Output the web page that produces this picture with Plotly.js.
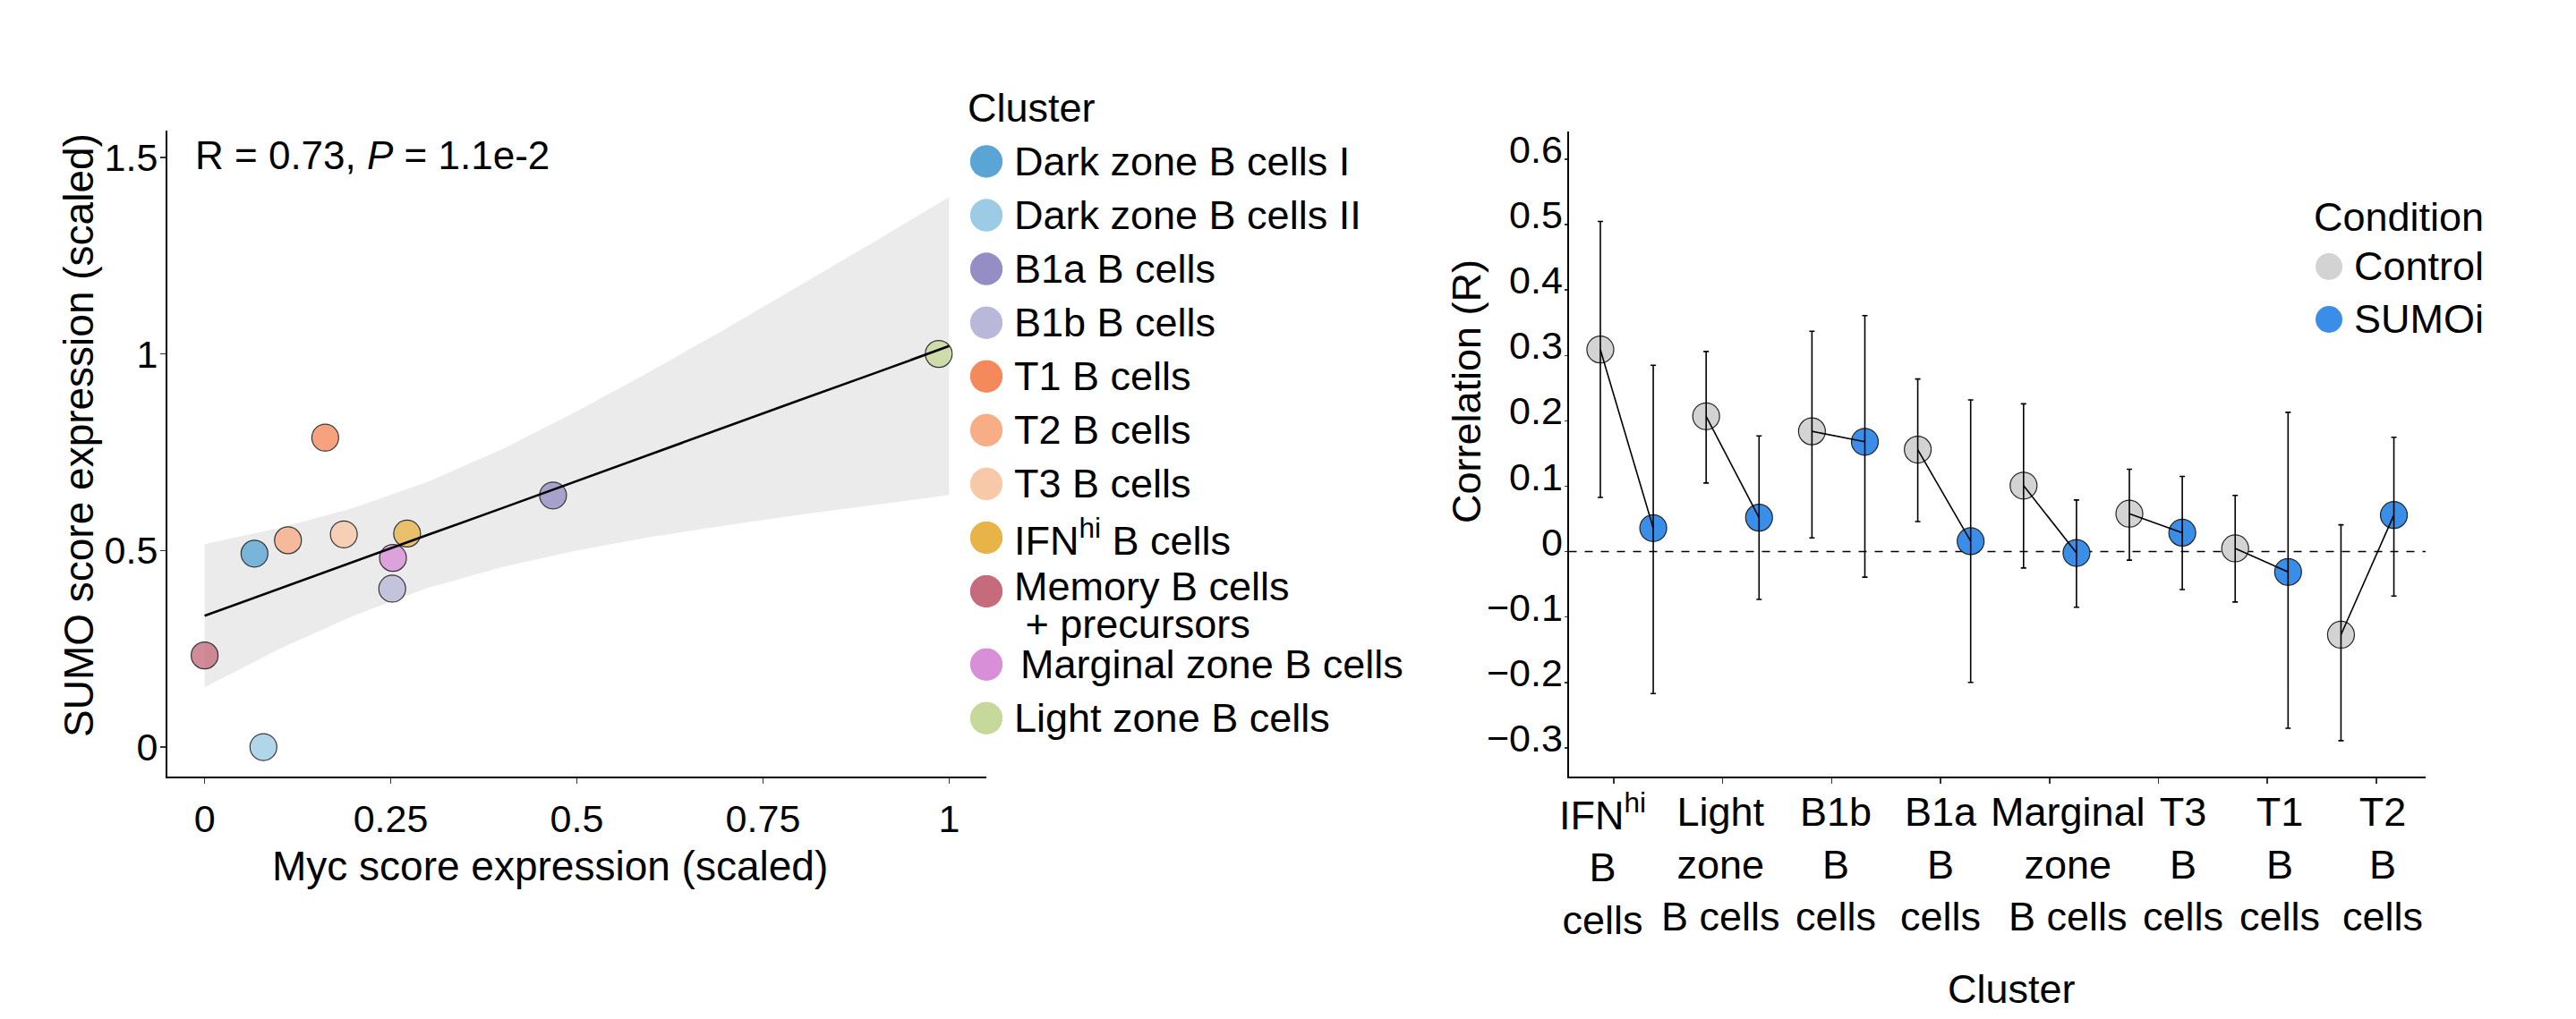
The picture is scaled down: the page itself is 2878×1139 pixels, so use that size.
<!DOCTYPE html>
<html>
<head>
<meta charset="utf-8">
<script src="https://cdn.plot.ly/plotly-3.0.1.min.js"></script>
<style>html,body{margin:0;padding:0;background:#fff;}#chart{width:2878px;height:1139px;}</style>
</head>
<body>
<div id="chart"></div>
<script>
// ---------- Left panel: Myc vs SUMO score per cluster ----------
const clusterNames = ['Dark zone B cells I', 'Dark zone B cells II', 'B1a B cells', 'B1b B cells',
  'T1 B cells', 'T2 B cells', 'T3 B cells', 'IFN<sup>hi</sup> B cells',
  'Memory B cells', 'Marginal zone B cells', 'Light zone B cells'];
const clusterNameSecondLine = ['', '', '', '', '', '', '', '', ' + precursors', '', ''];
const clusterColors = ['#5aa5d5', '#9ccbe5', '#948ec4', '#b9b8da', '#f4895c', '#f7ad85',
  '#f8c9a8', '#e8b347', '#c66b7c', '#d98ed8', '#c7d99a'];
const mycScore  = [0.067, 0.079, 0.468, 0.252, 0.162, 0.112, 0.187, 0.272, 0.000, 0.253, 0.986];
const sumoScore = [0.492, 0.000, 0.640, 0.403, 0.787, 0.526, 0.541, 0.543, 0.233, 0.481, 1.000];

// regression fit and its confidence band
const fitX     = [0, 0.1, 0.2, 0.3, 0.4, 0.5, 0.6, 0.7, 0.8, 0.9, 1.0];
const fitY     = [0.334, 0.403, 0.471, 0.540, 0.608, 0.677, 0.746, 0.814, 0.883, 0.951, 1.020];
const fitUpper = [0.516, 0.557, 0.608, 0.675, 0.758, 0.854, 0.957, 1.064, 1.175, 1.286, 1.399];
const fitLower = [0.152, 0.249, 0.334, 0.405, 0.458, 0.500, 0.535, 0.564, 0.591, 0.616, 0.641];
const statText = 'R = 0.73, <i>P</i> = 1.1e-2';

// ---------- Right panel: correlation per cluster and condition ----------
const corrClusters = ['IFN<sup>hi</sup><br>B<br>cells', 'Light<br>zone<br>B cells', 'B1b<br>B<br>cells',
  'B1a<br>B<br>cells', 'Marginal<br>zone<br>B cells', 'T3<br>B<br>cells', 'T1<br>B<br>cells', 'T2<br>B<br>cells'];
const conditions = ['Control', 'SUMOi'];
const conditionColors = ['#d3d3d3', '#3a8ee8'];
const controlR    = [0.309, 0.207, 0.184, 0.156, 0.101, 0.058, 0.005, -0.127];
const controlLow  = [0.083, 0.105, 0.021, 0.046, -0.025, -0.013, -0.077, -0.289];
const controlHigh = [0.505, 0.306, 0.337, 0.264, 0.226, 0.126, 0.086, 0.041];
const sumoiR      = [0.036, 0.052, 0.168, 0.016, -0.002, 0.029, -0.031, 0.056];
const sumoiLow    = [-0.217, -0.073, -0.039, -0.200, -0.085, -0.058, -0.270, -0.068];
const sumoiHigh   = [0.285, 0.177, 0.361, 0.232, 0.079, 0.115, 0.213, 0.175];

// ---------- build ----------
const W = 2878, H = 1139;
const FONT = 'Liberation Sans, Arial, Helvetica, sans-serif';
const px = v => v / W;
const py = v => 1 - v / H;

const ctrlX = controlR.map((_, i) => 2 * i + 1);
const sumoX = sumoiR.map((_, i) => 2 * i + 2);
const clusterTicks = corrClusters.map((_, k) => 1.254 + 2.059 * k);
const tickLabelNudge = [-12, -2, 5, 0, 21, 28, 14, 7];   // px offsets of the labels as typeset in the figure

const allX = [], allY = [], errUp = [], errDn = [], pairX = [], pairY = [];
controlR.forEach((c, i) => {
  allX.push(ctrlX[i], sumoX[i]);
  allY.push(c, sumoiR[i]);
  errUp.push(controlHigh[i] - c, sumoiHigh[i] - sumoiR[i]);
  errDn.push(c - controlLow[i], sumoiR[i] - sumoiLow[i]);
  pairX.push(ctrlX[i], sumoX[i], null);
  pairY.push(c, sumoiR[i], null);
});

const legendRows = clusterNames.map((_, i) => i + (i > 8 ? 0.36 : 0));

const traces = [
  // band
  {x: fitX, y: fitLower, xaxis: 'x', yaxis: 'y', mode: 'lines', line: {width: 0, color: 'rgba(0,0,0,0)'},
   hoverinfo: 'skip', showlegend: false},
  {x: fitX, y: fitUpper, xaxis: 'x', yaxis: 'y', mode: 'lines', fill: 'tonexty', fillcolor: '#ebebeb',
   line: {width: 0, color: 'rgba(0,0,0,0)'}, hoverinfo: 'skip', showlegend: false},
  // points
  {x: mycScore, y: sumoScore, xaxis: 'x', yaxis: 'y', mode: 'markers', text: clusterNames,
   marker: {size: 30, color: clusterColors, opacity: 0.78, line: {color: '#000', width: 1.2}}, showlegend: false},
  // fit line
  {x: fitX, y: fitY, xaxis: 'x', yaxis: 'y', mode: 'lines', line: {color: '#000', width: 2.6}, showlegend: false},
  // right panel markers
  {x: ctrlX, y: controlR, xaxis: 'x2', yaxis: 'y2', mode: 'markers', name: conditions[0],
   marker: {size: 30, color: conditionColors[0], line: {color: '#222', width: 1.2}}, showlegend: false},
  {x: sumoX, y: sumoiR, xaxis: 'x2', yaxis: 'y2', mode: 'markers', name: conditions[1],
   marker: {size: 30, color: conditionColors[1], line: {color: '#222', width: 1.2}}, showlegend: false},
  // error bars on top
  {x: allX, y: allY, xaxis: 'x2', yaxis: 'y2', mode: 'markers', marker: {size: 1, opacity: 0},
   error_y: {type: 'data', symmetric: false, array: errUp, arrayminus: errDn, color: '#000', thickness: 1.6, width: 3},
   hoverinfo: 'skip', showlegend: false},
  // connecting lines
  {x: pairX, y: pairY, xaxis: 'x2', yaxis: 'y2', mode: 'lines', line: {color: '#000', width: 1.6},
   connectgaps: false, hoverinfo: 'skip', showlegend: false}
];
// cluster legend markers (one trace per key)
clusterNames.forEach((name, i) => {
  traces.push({x: [0], y: [legendRows[i]], xaxis: 'x3', yaxis: 'y3', mode: 'markers', cliponaxis: false,
    marker: {size: 36, color: clusterColors[i], opacity: 1}, hoverinfo: 'skip', showlegend: false});
});
// condition legend markers
conditions.forEach((name, i) => {
  traces.push({x: [0], y: [i], xaxis: 'x4', yaxis: 'y4', mode: 'markers', cliponaxis: false,
    marker: {size: 30, color: conditionColors[i]}, hoverinfo: 'skip', showlegend: false});
});

// legend keys also as pixel-sized circles anchored on the legend axes
const legendKeyShapes = clusterNames.map((name, i) => ({
  type: 'circle', xref: 'x3', yref: 'y3', xsizemode: 'pixel', ysizemode: 'pixel',
  xanchor: 0, yanchor: legendRows[i], x0: -18, x1: 18, y0: -18, y1: 18,
  fillcolor: clusterColors[i], line: {width: 0}, layer: 'above'
}));

const tickFont = {family: FONT, size: 43, color: '#000'};
const titleFont = {family: FONT, size: 46, color: '#000'};
const legFont = {family: FONT, size: 45, color: '#000'};

const annotations = [
  {text: statText, xref: 'paper', yref: 'paper', x: px(216), y: py(173), xanchor: 'left', yanchor: 'middle',
   showarrow: false, font: {family: FONT, size: 44, color: '#000'}},
  {text: 'Myc score expression (scaled)', xref: 'paper', yref: 'paper', x: px(614), y: py(968),
   xanchor: 'center', yanchor: 'middle', showarrow: false, font: titleFont},
  {text: 'SUMO score expression (scaled)', xref: 'paper', yref: 'paper', x: px(88), y: py(487),
   xanchor: 'center', yanchor: 'middle', textangle: -90, showarrow: false, font: titleFont},
  {text: 'Correlation (R)', xref: 'paper', yref: 'paper', x: px(1638), y: py(437),
   xanchor: 'center', yanchor: 'middle', textangle: -90, showarrow: false, font: legFont},
  {text: 'Cluster', xref: 'paper', yref: 'paper', x: px(2247), y: py(1105),
   xanchor: 'center', yanchor: 'middle', showarrow: false, font: legFont},
  {text: 'Cluster', xref: 'paper', yref: 'paper', x: px(1079), y: py(121),
   xanchor: 'left', yanchor: 'middle', showarrow: false, font: legFont},
  {text: 'Condition', xref: 'paper', yref: 'paper', x: px(2583), y: py(242),
   xanchor: 'left', yanchor: 'middle', showarrow: false, font: legFont}
];
// category labels under the right panel's ticks
corrClusters.forEach((lab, k) => {
  annotations.push({text: lab, xref: 'x2', yref: 'paper', x: clusterTicks[k], y: py(966), xanchor: 'center',
    yanchor: 'middle', xshift: tickLabelNudge[k], align: 'center', showarrow: false, font: legFont});
});
clusterNames.forEach((name, i) => {
  const two = clusterNameSecondLine[i] !== '';
  annotations.push({text: name, xref: 'x3', yref: 'y3', x: 0, y: legendRows[i], xanchor: 'left', yanchor: 'middle',
    xshift: i === 9 ? 36 : 29, yshift: two ? 5 : 0, align: 'left', showarrow: false, font: legFont});
  if (two) {
    annotations.push({text: clusterNameSecondLine[i], xref: 'x3', yref: 'y3', x: 0, y: legendRows[i],
      xanchor: 'left', yanchor: 'middle', xshift: 29, yshift: -37, align: 'left', showarrow: false, font: legFont});
  }
});
conditions.forEach((name, i) => {
  annotations.push({text: name, xref: 'x4', yref: 'y4', x: 0, y: i, xanchor: 'left', yanchor: 'middle',
    xshift: 26, showarrow: false, font: legFont});
});

const hidden = {visible: false, showgrid: false, zeroline: false, fixedrange: true};

const layout = {
  width: W, height: H,
  margin: {l: 0, r: 0, t: 0, b: 0},
  paper_bgcolor: '#fff', plot_bgcolor: 'rgba(0,0,0,0)',
  showlegend: false,
  font: {family: FONT, color: '#000'},
  xaxis: {domain: [px(187), px(1102)], range: [-0.05, 1.05], tickvals: [0, 0.25, 0.5, 0.75, 1],
    ticktext: ['0', '0.25', '0.5', '0.75', '1'], tickangle: 0,
    showline: true, linecolor: '#000', linewidth: 2, ticks: 'outside', ticklen: 6, tickwidth: 1.5, tickcolor: '#333',
    showgrid: false, zeroline: false, tickfont: tickFont, ticklabelstandoff: 2, automargin: false, anchor: 'y'},
  yaxis: {domain: [py(868), py(146)], range: [-0.075, 1.568], tickvals: [0, 0.5, 1, 1.5],
    ticktext: ['0', '0.5', '1', '1.5'],
    showline: true, linecolor: '#000', linewidth: 2, ticks: 'outside', ticklen: 6, tickwidth: 1.5, tickcolor: '#333',
    showgrid: false, zeroline: false, tickfont: tickFont, ticklabelstandoff: -6, automargin: false, anchor: 'x'},
  xaxis2: {domain: [px(1752.5), px(2710)], range: [0.4, 16.6],
    tickvals: clusterTicks, showticklabels: false,
    showline: true, linecolor: '#000', linewidth: 2, ticks: 'outside', ticklen: 6, tickwidth: 1.5, tickcolor: '#333',
    showgrid: false, zeroline: false, automargin: false, anchor: 'y2'},
  yaxis2: {domain: [py(867.8), py(146.7)], range: [-0.3436, 0.6428], dtick: 0.1, tick0: 0,
    showline: true, linecolor: '#000', linewidth: 2, ticks: 'outside', ticklen: 3, tickwidth: 1.5, tickcolor: '#333',
    showgrid: false, zeroline: false, tickfont: tickFont, ticklabelstandoff: -7, ticklabelshift: -11,
    automargin: false, anchor: 'x2'},
  xaxis3: Object.assign({domain: [px(1065), px(1497)], range: [-37, 395], anchor: 'y3'}, hidden),
  yaxis3: Object.assign({domain: [py(850), py(100)], range: [11.147, -1.340], anchor: 'x3'}, hidden),
  xaxis4: Object.assign({domain: [px(2560), px(2860)], range: [-42, 258], anchor: 'y4'}, hidden),
  yaxis4: Object.assign({domain: [py(400), py(200)], range: [1.729, -1.661], anchor: 'x4'}, hidden),
  shapes: [
    {type: 'line', xref: 'x2 domain', yref: 'y2', x0: 0, x1: 1, y0: 0, y1: 0,
     line: {color: '#000', width: 1.5, dash: 'dash'}, layer: 'below'}
  ].concat(legendKeyShapes),
  annotations: annotations
};

Plotly.newPlot('chart', traces, layout, {staticPlot: true, displayModeBar: false});
</script>
</body>
</html>
